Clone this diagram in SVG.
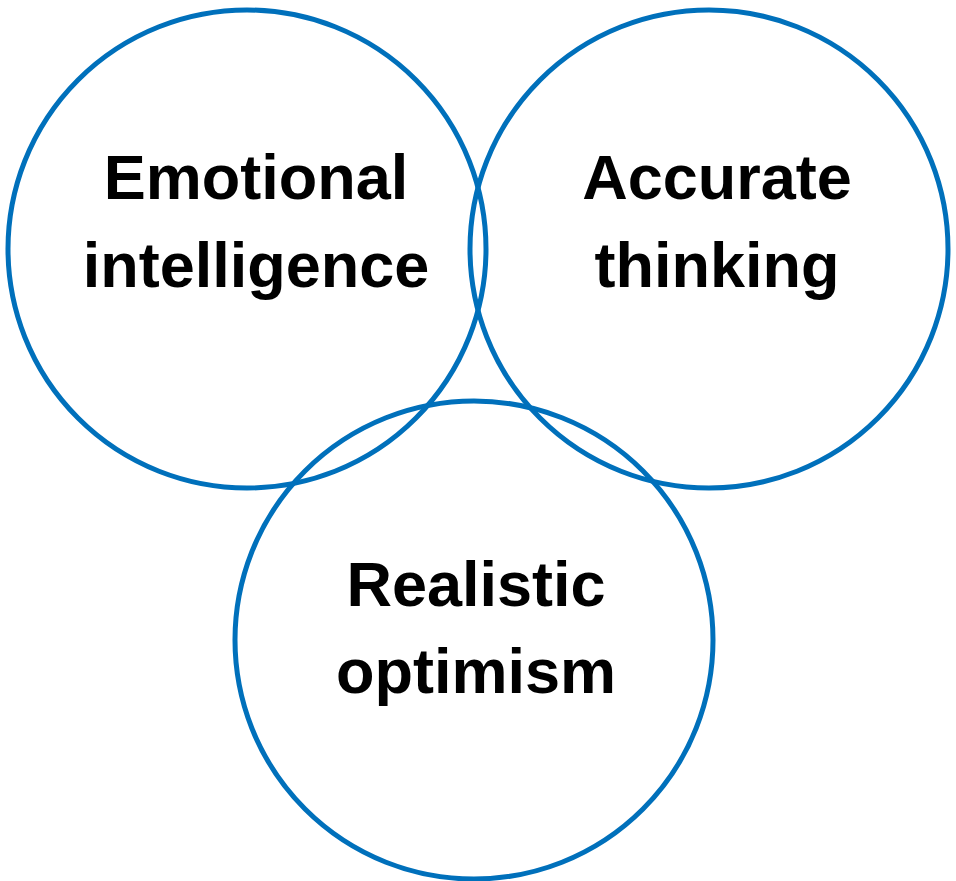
<svg xmlns="http://www.w3.org/2000/svg" width="956" height="881" viewBox="0 0 956 881">
<style>
.c{fill:none;stroke:#0070BB;stroke-width:5}
.t{font-family:"Liberation Sans",Arial,sans-serif;font-weight:bold;font-size:63px;fill:#000;text-anchor:middle}
</style>
<rect width="956" height="881" fill="#fff"/>
<g id="emotional">
<circle class="c" cx="247" cy="249" r="239"/>
<text class="t" x="256" y="199">Emotional</text>
<text class="t" x="256" y="287">intelligence</text>
</g>
<g id="accurate">
<circle class="c" cx="709" cy="249" r="239"/>
<text class="t" x="717" y="199">Accurate</text>
<text class="t" x="717" y="287">thinking</text>
</g>
<g id="realistic">
<circle class="c" cx="474" cy="640" r="239"/>
<text class="t" x="476" y="606">Realistic</text>
<text class="t" x="476" y="693">optimism</text>
</g>
</svg>
